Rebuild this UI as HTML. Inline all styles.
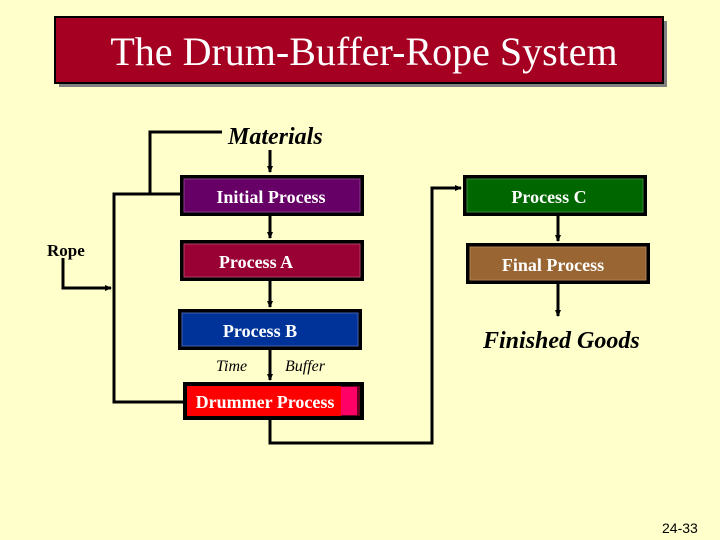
<!DOCTYPE html>
<html><head><meta charset="utf-8"><style>
html,body{margin:0;padding:0;background:#ffffcc;}
svg{display:block}
text{font-family:"Liberation Serif",serif;}
</style></head><body>
<svg width="720" height="540" viewBox="0 0 720 540" xmlns="http://www.w3.org/2000/svg">
<rect width="720" height="540" fill="#ffffcc"/>
<defs>
<marker id="ar" markerWidth="8" markerHeight="8" refX="6" refY="4" orient="auto" markerUnits="userSpaceOnUse"><path d="M0,1 L7,4 L0,7 z" fill="#000"/></marker>
</defs>
<!-- title -->
<rect x="59" y="21" width="608" height="66" fill="#808080"/>
<rect x="55" y="17" width="608" height="66" fill="#a50021" stroke="#000" stroke-width="2"/>
<text x="364" y="65" font-size="40" fill="#fff" text-anchor="middle">The Drum-Buffer-Rope System</text>

<g stroke="#000" stroke-width="3" fill="none">
<polyline points="222,132 150,132 150,194"/>
<polyline points="181,194 114,194 114,402 185,402"/>
<line x1="270" y1="150" x2="270" y2="172" marker-end="url(#ar)"/>
<line x1="270" y1="216" x2="270" y2="238" marker-end="url(#ar)"/>
<line x1="270" y1="281" x2="270" y2="307" marker-end="url(#ar)"/>
<line x1="270" y1="350" x2="270" y2="380" marker-end="url(#ar)"/>
<polyline points="63,258 63,288 111,288" marker-end="url(#ar)"/>
<polyline points="270,420 270,443 432,443 432,188 461,188" marker-end="url(#ar)"/>
<line x1="558" y1="215" x2="558" y2="241" marker-end="url(#ar)"/>
<line x1="558" y1="283" x2="558" y2="316" marker-end="url(#ar)"/>
</g>

<g font-weight="bold" font-size="18" fill="#fff" text-anchor="middle">
<rect x="180" y="175" width="184" height="41" fill="#000"/>
<rect x="184" y="179" width="176" height="33" fill="#660066" stroke="#8a3a8a" stroke-width="1"/>
<text x="271" y="203" fill="#fff">Initial Process</text>

<rect x="180" y="240" width="184" height="41" fill="#000"/>
<rect x="184" y="244" width="176" height="33" fill="#990033" stroke="#b04060" stroke-width="1"/>
<text x="256" y="268" fill="#fff">Process A</text>

<rect x="178" y="309" width="184" height="41" fill="#000"/>
<rect x="182" y="313" width="176" height="33" fill="#003399" stroke="#4060b0" stroke-width="1"/>
<text x="260" y="337" fill="#fff">Process B</text>

<rect x="183" y="382" width="181" height="38" fill="#000"/>
<rect x="187" y="386" width="173" height="30" fill="#660022"/>
<rect x="187" y="386" width="154" height="30" fill="#ff0000"/>
<rect x="341" y="387" width="16" height="28" fill="#ff0066"/>
<text x="265" y="408" fill="#fff">Drummer Process</text>

<rect x="463" y="175" width="184" height="41" fill="#000"/>
<rect x="467" y="179" width="176" height="33" fill="#006600" stroke="#3a8a3a" stroke-width="1"/>
<text x="549" y="203" fill="#fff">Process C</text>

<rect x="466" y="243" width="184" height="41" fill="#000"/>
<rect x="470" y="247" width="176" height="33" fill="#996633" stroke="#b08050" stroke-width="1"/>
<text x="553" y="271" fill="#fff">Final Process</text>
</g>

<text x="228" y="144" font-size="24" font-style="italic" font-weight="bold">Materials</text>
<text x="47" y="256" font-size="17" font-weight="bold">Rope</text>
<text x="216" y="371" font-size="16" font-style="italic">Time</text>
<text x="285" y="371" font-size="16" font-style="italic">Buffer</text>
<text x="483" y="348" font-size="24" font-style="italic" font-weight="bold">Finished Goods</text>
<text x="662" y="533" font-size="14" style="font-family:'Liberation Sans',sans-serif">24-33</text>
</svg>
</body></html>
